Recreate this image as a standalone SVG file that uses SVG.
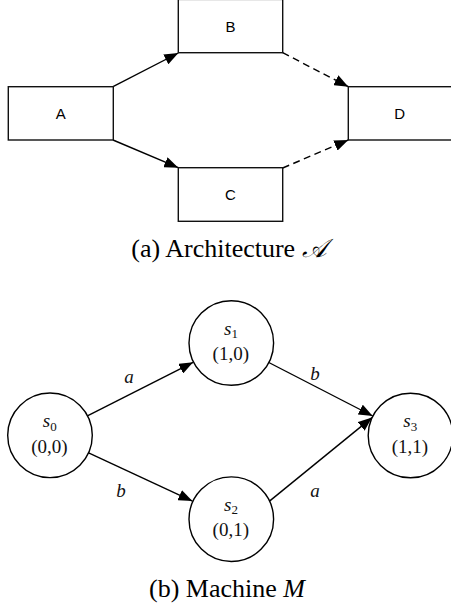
<svg xmlns="http://www.w3.org/2000/svg" width="451" height="607" viewBox="0 0 451 607">
<defs>
<style>
.box{fill:#fff;stroke:#111;stroke-width:1.4}
.st{fill:#fff;stroke:#000;stroke-width:1.4}
.edge{fill:none;stroke:#000;stroke-width:1.4}
.dash{stroke-dasharray:7,4.5}
.lbl{font-family:"Liberation Sans",Arial,sans-serif;font-size:15px;fill:#000;text-anchor:middle}
.ser{font-family:"Liberation Serif","Times New Roman",serif;fill:#111;text-anchor:middle}
.nm{font-size:19px}
.cap{font-size:26px;fill:#000}
.it{font-style:italic}
</style>
<marker id="ah" viewBox="0 0 14 11" refX="14" refY="5.5" markerWidth="14" markerHeight="11" markerUnits="userSpaceOnUse" orient="auto">
<path d="M0,0 L14,5.5 L0,11 z" fill="#000"/>
</marker>
</defs>
<g id="connectors">
<line class="edge" x1="113" y1="86.7" x2="178.3" y2="53" marker-end="url(#ah)"/>
<line class="edge" x1="113" y1="140" x2="178.3" y2="167.7" marker-end="url(#ah)"/>
<line class="edge dash" x1="282.7" y1="52.7" x2="348.3" y2="86.7" marker-end="url(#ah)"/>
<line class="edge dash" x1="282.7" y1="168" x2="348.3" y2="140" marker-end="url(#ah)"/>
<line class="edge" x1="87.9" y1="415.7" x2="193.1" y2="362.3" marker-end="url(#ah)"/>
<line class="edge" x1="268.8" y1="362.5" x2="372.7" y2="416" marker-end="url(#ah)"/>
<line class="edge" x1="88.6" y1="452.9" x2="192.4" y2="501.1" marker-end="url(#ah)"/>
<line class="edge" x1="269.5" y1="501.1" x2="372" y2="417.6" marker-end="url(#ah)"/>
<text class="ser nm it" x="129" y="383">a</text>
<text class="ser nm it" x="315" y="380">b</text>
<text class="ser nm it" x="121" y="496.5">b</text>
<text class="ser nm it" x="315" y="496.5">a</text>
</g>
<g id="A"><rect class="box" x="8.3" y="86.7" width="105" height="53.3"/><text class="lbl" x="60.8" y="119.3">A</text></g>
<g id="B"><rect class="box" x="178.3" y="-0.6" width="104.4" height="53.3"/><text class="lbl" x="230.5" y="32.3">B</text></g>
<g id="C"><rect class="box" x="178.3" y="167.7" width="104.4" height="53.6"/><text class="lbl" x="230.5" y="200.3">C</text></g>
<g id="D"><rect class="box" x="348.3" y="86.7" width="110" height="53.3"/><text class="lbl" x="399.7" y="119.3">D</text></g>
<text class="ser cap" x="229" y="257">(a) Architecture <tspan font-style="italic">𝒜</tspan></text>
<g id="s0"><circle class="st" cx="50" cy="435.3" r="42.3"/>
<text class="ser nm" x="49.7" y="427"><tspan class="it">s</tspan><tspan font-size="13" dy="3.5">0</tspan></text>
<text class="ser nm" x="49.5" y="452.5">(0,0)</text></g>
<g id="s1"><circle class="st" cx="231.3" cy="343" r="42.3"/>
<text class="ser nm" x="231" y="334.7"><tspan class="it">s</tspan><tspan font-size="13" dy="3.5">1</tspan></text>
<text class="ser nm" x="230.8" y="360.2">(1,0)</text></g>
<g id="s2"><circle class="st" cx="231.3" cy="519.2" r="42.3"/>
<text class="ser nm" x="231" y="510.9"><tspan class="it">s</tspan><tspan font-size="13" dy="3.5">2</tspan></text>
<text class="ser nm" x="230.8" y="536.4">(0,1)</text></g>
<g id="s3"><circle class="st" cx="410.5" cy="435.5" r="42.3"/>
<text class="ser nm" x="410.2" y="427.2"><tspan class="it">s</tspan><tspan font-size="13" dy="3.5">3</tspan></text>
<text class="ser nm" x="410" y="452.7">(1,1)</text></g>
<text class="ser cap" x="227" y="596.5">(b) Machine <tspan font-style="italic">M</tspan></text>
</svg>
